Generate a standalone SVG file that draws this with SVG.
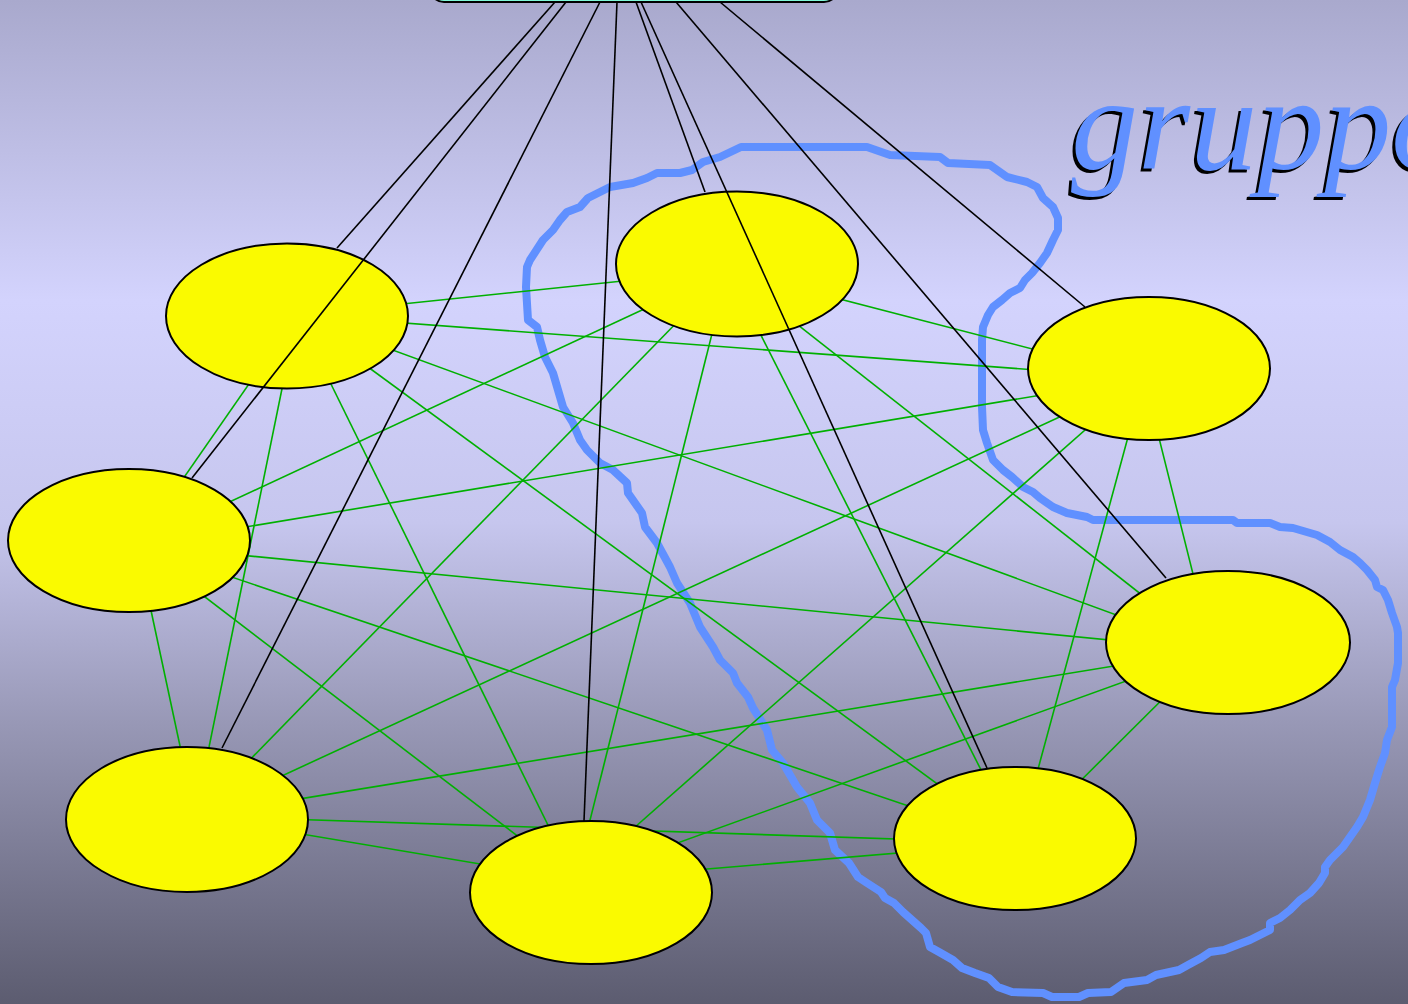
<svg xmlns="http://www.w3.org/2000/svg" width="1408" height="1004" viewBox="0 0 1408 1004">
<defs>
<linearGradient id="bg" x1="0" y1="0" x2="0" y2="1">
<stop offset="0" stop-color="#a9a9cd"/>
<stop offset="0.3" stop-color="#d3d3fd"/>
<stop offset="0.52" stop-color="#c6c6ee"/>
<stop offset="0.72" stop-color="#9898b6"/>
<stop offset="1" stop-color="#5c5c70"/>
</linearGradient>
<style>
.node{fill:#fafa00;stroke:#000;stroke-width:2}
.g{stroke:#00b000;stroke-width:1.6;fill:none}
.k{stroke:#000;stroke-width:1.6;fill:none}
.lbl{font-family:"Liberation Serif",serif;font-style:italic;font-size:134px}
</style>
</defs>
<rect x="0" y="0" width="1408" height="1004" fill="url(#bg)"/>
<path id="group-outline" fill="none" stroke="#6090ff" stroke-width="8" stroke-linejoin="round" d="M741,147 L867,147 L890,155 L940,157 L948,163 L990,165 L1007,177 L1027,182 L1037,187 L1043,198 L1053,207 L1058,218 L1058,230 L1053,240 L1047,253 L1040,263 L1032,273 L1025,280 L1020,288 L1010,293 L1002,300 L993,307 L988,315 L983,327 L982,340 L982,407 L983,430 L987,443 L993,460 L1003,470 L1012,477 L1023,487 L1033,492 L1040,498 L1053,507 L1067,513 L1087,517 L1093,520 L1233,520 L1237,523 L1270,523 L1280,527 L1293,528 L1317,535 L1330,542 L1340,550 L1353,557 L1360,563 L1367,570 L1375,580 L1377,587 L1383,590 L1388,600 L1392,613 L1397,627 L1398,633 L1398,663 L1395,680 L1392,687 L1392,727 L1387,740 L1385,753 L1380,767 L1375,783 L1370,800 L1363,817 L1357,827 L1350,837 L1343,847 L1337,853 L1330,860 L1325,867 L1325,873 L1319,883 L1310,893 L1300,900 L1290,910 L1280,918 L1270,923 L1270,930 L1250,940 L1242,943 L1224,950 L1210,952 L1201,958 L1188,965 L1179,970 L1156,975 L1147,980 L1124,983 L1111,992 L1088,993 L1079,997 L1052,997 L1043,993 L1012,992 L998,987 L989,978 L975,973 L962,968 L953,960 L939,952 L930,947 L926,933 L921,928 L912,920 L903,912 L894,903 L885,898 L881,892 L867,883 L858,877 L849,863 L835,850 L830,833 L817,820 L810,803 L797,787 L783,763 L772,750 L767,730 L753,708 L748,697 L737,683 L733,673 L720,660 L713,647 L700,627 L690,603 L677,583 L670,567 L657,543 L645,527 L642,513 L628,493 L627,483 L613,470 L600,463 L587,450 L580,440 L573,423 L563,407 L558,390 L553,373 L545,357 L540,340 L537,327 L528,320 L526,287 L527,267 L530,260 L543,240 L553,230 L560,220 L567,212 L580,207 L588,198 L600,192 L610,187 L633,183 L647,178 L657,173 L680,173 L692,170 L703,162 L720,157 Z"/>
<g id="connectors">
<g id="green-edges" class="g">
<line x1="297" y1="315" x2="728" y2="270"/>
<line x1="297" y1="315" x2="1144" y2="378"/>
<line x1="297" y1="315" x2="137" y2="545"/>
<line x1="297" y1="315" x2="1212" y2="650"/>
<line x1="297" y1="315" x2="195" y2="816"/>
<line x1="297" y1="315" x2="575" y2="880"/>
<line x1="297" y1="315" x2="1018" y2="843"/>
<line x1="728" y1="270" x2="1144" y2="378"/>
<line x1="728" y1="270" x2="137" y2="545"/>
<line x1="728" y1="270" x2="1212" y2="650"/>
<line x1="728" y1="270" x2="195" y2="816"/>
<line x1="728" y1="270" x2="575" y2="880"/>
<line x1="728" y1="270" x2="1018" y2="843"/>
<line x1="1144" y1="378" x2="137" y2="545"/>
<line x1="1144" y1="378" x2="1212" y2="650"/>
<line x1="1144" y1="378" x2="195" y2="816"/>
<line x1="1144" y1="378" x2="575" y2="880"/>
<line x1="1144" y1="378" x2="1018" y2="843"/>
<line x1="137" y1="545" x2="1212" y2="650"/>
<line x1="137" y1="545" x2="195" y2="816"/>
<line x1="137" y1="545" x2="575" y2="880"/>
<line x1="137" y1="545" x2="1018" y2="843"/>
<line x1="1212" y1="650" x2="195" y2="816"/>
<line x1="1212" y1="650" x2="575" y2="880"/>
<line x1="1212" y1="650" x2="1018" y2="843"/>
<line x1="195" y1="816" x2="575" y2="880"/>
<line x1="195" y1="816" x2="1018" y2="843"/>
<line x1="575" y1="880" x2="1018" y2="843"/>
</g>
</g>
<g id="node1"><ellipse class="node" cx="287" cy="316" rx="121" ry="72.5"/></g>
<g id="node2"><ellipse class="node" cx="737" cy="264" rx="121" ry="72.5"/></g>
<g id="node3"><ellipse class="node" cx="1149" cy="368.5" rx="121" ry="71.5"/></g>
<g id="node4"><ellipse class="node" cx="129" cy="540.5" rx="121" ry="71.5"/></g>
<g id="node5"><ellipse class="node" cx="1228" cy="642.5" rx="122" ry="71.5"/></g>
<g id="node6"><ellipse class="node" cx="187" cy="819.5" rx="121" ry="72.5"/></g>
<g id="node7"><ellipse class="node" cx="591" cy="892.5" rx="121" ry="71.5"/></g>
<g id="node8"><ellipse class="node" cx="1015" cy="838.5" rx="121" ry="71.5"/></g>
<g id="connectors-top" class="k">
<line x1="555" y1="2" x2="337" y2="248"/>
<line x1="566" y1="2" x2="192" y2="478"/>
<line x1="600" y1="2" x2="222" y2="748"/>
<line x1="617" y1="2" x2="584" y2="821"/>
<line x1="636" y1="2" x2="705" y2="192"/>
<line x1="641" y1="2" x2="987" y2="768"/>
<line x1="676" y1="2" x2="1166" y2="578"/>
<line x1="720" y1="2" x2="1085" y2="307"/>
</g>
<g id="top-node"><rect x="430" y="-60" width="408" height="62" rx="14" fill="#80f8d8" stroke="#000" stroke-width="2"/></g>
<g id="label">
<text class="lbl" x="1068" y="172" fill="#000">gruppo</text>
<text class="lbl" x="1071" y="169" fill="#6090ff">gruppo</text>
</g>
</svg>
